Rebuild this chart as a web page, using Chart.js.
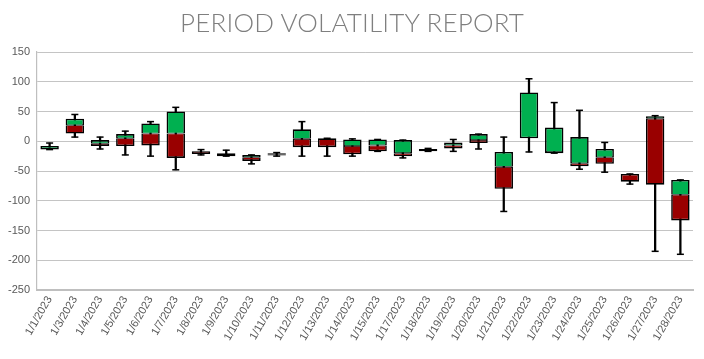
<!DOCTYPE html>
<html>
<head>
<meta charset="utf-8">
<script src="https://cdn.jsdelivr.net/npm/chart.js@4.4.1/dist/chart.umd.min.js"></script>
<style>
  html, body { margin: 0; padding: 0; background: #ffffff; }
  #wrap { position: relative; width: 704px; height: 359px; overflow: hidden; }
  #title { position: absolute; left: 0; top: 7px; width: 704px; text-align: center;
           font-family: Lato, "Open Sans", "Liberation Sans", sans-serif; font-weight: 300;
           font-size: 26px; line-height: 30px; color: #7f7f7f; white-space: nowrap; }
  #title span { display: inline-block; }
  canvas { position: absolute; left: 0; top: 0; }
</style>
</head>
<body>
<div id="wrap">
  <canvas id="c" width="704" height="359"></canvas>
  <div id="title"><span id="tt">PERIOD VOLATILITY REPORT</span></div>
</div>
<script>
const categories = ['1/1/2023','1/3/2023','1/4/2023','1/5/2023','1/6/2023','1/7/2023','1/8/2023','1/9/2023','1/10/2023','1/11/2023','1/12/2023','1/13/2023','1/14/2023','1/15/2023','1/17/2023','1/18/2023','1/19/2023','1/20/2023','1/21/2023','1/22/2023','1/23/2023','1/24/2023','1/25/2023','1/26/2023','1/27/2023','1/28/2023'];
const maxValues  = [-3, 45, 7, 17, 33, 57, -14, -15, -23, -19, 33, 5, 4, 3, 2, -12, 3, 12, 7, 105, 65, 52, -2, -55, 43, -65];
const boxHigh    = [-8, 38, 2, 12, 30, 50, -16.5, -20, -23, -20, 20, 5, 3, 3, 2, -13, -2, 12, -18, 82, 23, 7, -13, -55, 42, -65];
const midValues  = [-14, 27, -4, 5, 13, 13, -17.5, -25, -27, -22, 4, 5, -8, -7, -20, -17, -7, 2, -43, 5, -18, -37, -27, -55, 38, -90];
const boxLow     = [-14, 13, -8, -8, -7, -28, -21.5, -25, -33, -24, -10, -10, -22, -17, -25, -17, -12, -3, -80, 5, -20, -42, -38, -68, -73, -133];
const minValues  = [-14, 7, -13, -23, -25, -48, -23, -25, -38, -25, -25, -25, -25, -17, -28, -17, -17, -13, -118, -18, -20, -47, -52, -72, -185, -190];
const yTicks = { min: -250, max: 150, step: 50 };

const redData = boxLow.map((l, i) => midValues[i] > l ? [l, midValues[i]] : null);
const greenData = midValues.map((m, i) => boxHigh[i] > m ? [m, boxHigh[i]] : null);
const whiskerData = minValues.map((m, i) => [m, maxValues[i]]);

const OUT = 1.6, IN = 0.8;
function redBorder(ctx) {
  const i = ctx.dataIndex;
  const hasGreen = greenData[i] !== null;
  return { left: OUT, right: OUT, bottom: OUT, top: hasGreen ? IN : OUT };
}
function greenBorder(ctx) {
  const i = ctx.dataIndex;
  const hasRed = redData[i] !== null;
  return { left: OUT, right: OUT, top: OUT, bottom: hasRed ? IN : OUT };
}

new Chart(document.getElementById('c'), {
  type: 'bar',
  data: {
    labels: categories,
    datasets: [
      { label: 'Up', data: greenData, backgroundColor: '#00b050', borderColor: '#000000',
        borderWidth: greenBorder, borderSkipped: false, grouped: false,
        barPercentage: 0.73, categoryPercentage: 1, order: 0 },
      { label: 'Down', data: redData, backgroundColor: '#990000', borderColor: '#000000',
        borderWidth: redBorder, borderSkipped: false, grouped: false,
        barPercentage: 0.73, categoryPercentage: 1, order: 1 },
      { type: 'line', label: 'High', data: maxValues, showLine: false, pointStyle: 'line',
        pointRadius: 3.5, pointHoverRadius: 3.5, pointBorderWidth: 1.5, borderColor: '#000000',
        backgroundColor: '#000000', order: 2 },
      { type: 'line', label: 'Low', data: minValues, showLine: false, pointStyle: 'line',
        pointRadius: 3.5, pointHoverRadius: 3.5, pointBorderWidth: 1.5, borderColor: '#000000',
        backgroundColor: '#000000', order: 2 },
      { label: 'Range', data: whiskerData, backgroundColor: '#000000', borderWidth: 0,
        barThickness: 1.6, grouped: false, order: 3 }
    ]
  },
  options: {
    responsive: false,
    animation: false,
    devicePixelRatio: 1,
    layout: { padding: { top: 52, right: 11, left: 0, bottom: 0 } },
    plugins: { legend: { display: false }, tooltip: { enabled: false }, title: { display: false } },
    scales: {
      x: {
        offset: true,
        grid: { display: false, drawTicks: false },
        border: { display: true, color: '#bfbfbf', width: 2 },
        ticks: { autoSkip: false, minRotation: 60, maxRotation: 60, padding: 4,
                 color: '#595959', font: { family: 'Liberation Sans', size: 11 } },
        afterFit: (s) => { s.height = 69; }
      },
      y: {
        min: yTicks.min, max: yTicks.max,
        grid: { color: '#c4c4c4', lineWidth: 1, drawTicks: false },
        border: { display: true, color: '#bfbfbf', width: 1.2 },
        ticks: { stepSize: yTicks.step, padding: 7, color: '#595959',
                 font: { family: 'Liberation Sans', size: 11 } },
        afterFit: (s) => { s.width = 37; }
      }
    }
  }
});

// fit the title to the reference width using letter spacing
const tt = document.getElementById('tt');
const natural = tt.getBoundingClientRect().width;
const target = 344;
const n = tt.textContent.length;
tt.style.letterSpacing = ((target - natural) / n) + 'px';
tt.style.marginLeft = ((target - natural) / n) + 'px';
</script>
</body>
</html>
